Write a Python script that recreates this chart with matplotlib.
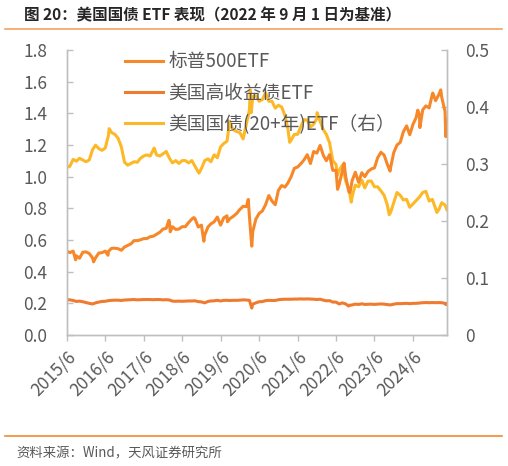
import matplotlib
matplotlib.use('Agg')
import matplotlib.pyplot as plt
import matplotlib.ticker as mticker
import matplotlib.transforms as mtrans
from matplotlib.lines import Line2D
import pandas as pd

plt.rcParams['font.family'] = ['Noto Sans CJK SC', 'DejaVu Sans']

# monthly points, first of month, 2015/6 .. 2025/4
months = pd.date_range('2015-06-01', '2025-04-01', freq='MS')

# 标普500ETF (left axis)
sp_vals = [
    0.53, 0.52, 0.53, 0.50, 0.485, 0.523, 0.525,
    0.515, 0.487, 0.487, 0.518, 0.52, 0.53, 0.528, 0.548, 0.548, 0.545, 0.535, 0.556,
    0.566, 0.576, 0.596, 0.596, 0.601, 0.609, 0.609, 0.621, 0.624, 0.636, 0.649, 0.669,
    0.674, 0.712, 0.684, 0.667, 0.669, 0.684, 0.684, 0.71, 0.732, 0.735, 0.682, 0.694,
    0.631, 0.682, 0.702, 0.715, 0.745, 0.694, 0.74, 0.753, 0.737, 0.75, 0.768, 0.793,
    0.813, 0.811, 0.747, 0.652, 0.732, 0.768, 0.783, 0.823, 0.881, 0.846, 0.823, 0.914,
    0.944, 0.934, 0.96, 1.0, 1.053, 1.061, 1.081, 1.106, 1.139, 1.083, 1.159, 1.149,
    1.197, 1.134, 1.101, 1.139, 1.04, 1.04, 0.952, 1.038, 1.0, 0.904, 0.975, 1.028,
    0.965, 1.025, 1.0, 1.033, 1.048, 1.056, 1.119, 1.154, 1.136, 1.078, 1.056, 1.152,
    1.2, 1.217, 1.283, 1.321, 1.265, 1.331, 1.374, 1.389, 1.422, 1.447, 1.434, 1.52,
    1.48, 1.518, 1.50, 1.412,
]
sp_extra_dates = ['2015-08-25', '2016-02-11', '2016-06-27', '2018-01-26', '2018-02-08',
                  '2018-09-20', '2018-12-24', '2019-08-05', '2020-02-19', '2020-03-23',
                  '2022-06-16', '2022-08-16', '2022-10-12', '2023-10-27', '2024-07-16',
                  '2024-08-05', '2024-12-06', '2025-02-19', '2025-04-08', '2025-04-18']
sp_extra_vals = [0.475, 0.462, 0.504, 0.724, 0.652,
                 0.742, 0.592, 0.715, 0.856, 0.561,
                 0.92, 1.086, 0.90, 1.035, 1.42,
                 1.31, 1.528, 1.548, 1.253, 1.36]

# 美国高收益债ETF (left axis)
hy_vals = [
    0.223, 0.222, 0.218, 0.212, 0.214, 0.21, 0.205,
    0.2, 0.196, 0.203, 0.208, 0.212, 0.213, 0.217, 0.219, 0.22, 0.22, 0.218, 0.221,
    0.222, 0.223, 0.224, 0.222, 0.223, 0.224, 0.224, 0.224, 0.223, 0.224, 0.224, 0.222,
    0.223, 0.221, 0.214, 0.213, 0.214, 0.213, 0.214, 0.215, 0.215, 0.216, 0.211, 0.209,
    0.203, 0.212, 0.215, 0.216, 0.219, 0.215, 0.219, 0.219, 0.218, 0.219, 0.219, 0.22,
    0.222, 0.221, 0.219, 0.195, 0.203, 0.21, 0.211, 0.217, 0.219, 0.218, 0.218, 0.223,
    0.225, 0.226, 0.226, 0.226, 0.227, 0.227, 0.228, 0.227, 0.228, 0.227, 0.226, 0.224,
    0.226, 0.22, 0.216, 0.217, 0.208, 0.208, 0.196, 0.203, 0.196, 0.187, 0.19, 0.195,
    0.193, 0.197, 0.193, 0.194, 0.195, 0.193, 0.195, 0.196, 0.195, 0.192, 0.19, 0.195,
    0.198, 0.198, 0.199, 0.2, 0.198, 0.2, 0.2, 0.202, 0.204, 0.205, 0.204, 0.205,
    0.204, 0.205, 0.204, 0.2,
]
hy_extra_dates = ['2020-03-23', '2022-09-29', '2025-04-08', '2025-04-18']
hy_extra_vals = [0.17, 0.183, 0.192, 0.198]

# 美国国债(20+年)ETF (right axis)
tlt_vals = [
    0.294, 0.296, 0.308, 0.305, 0.31, 0.307, 0.304,
    0.307, 0.325, 0.333, 0.327, 0.324, 0.328, 0.35, 0.355, 0.352, 0.345, 0.33, 0.303,
    0.298, 0.301, 0.304, 0.303, 0.31, 0.314, 0.316, 0.314, 0.325, 0.316, 0.314, 0.318,
    0.322, 0.31, 0.302, 0.306, 0.301, 0.306, 0.306, 0.302, 0.306, 0.296, 0.286, 0.292,
    0.306, 0.309, 0.304, 0.316, 0.311, 0.33, 0.336, 0.34, 0.368, 0.36, 0.357, 0.355,
    0.344, 0.37, 0.395, 0.418, 0.42, 0.41, 0.413, 0.425, 0.41, 0.41, 0.398, 0.403,
    0.40, 0.385, 0.362, 0.342, 0.352, 0.352, 0.365, 0.378, 0.377, 0.365, 0.37, 0.38,
    0.375, 0.36, 0.352, 0.337, 0.306, 0.299, 0.289, 0.298, 0.27, 0.256, 0.243, 0.263,
    0.26, 0.272, 0.258, 0.27, 0.27, 0.26, 0.26, 0.253, 0.245, 0.228, 0.215, 0.232,
    0.25, 0.245, 0.237, 0.238, 0.224, 0.23, 0.236, 0.242, 0.25, 0.252, 0.235, 0.238,
    0.222, 0.22, 0.232, 0.228,
]
tlt_extra_dates = ['2016-07-08', '2017-09-08', '2018-11-08', '2019-08-27', '2020-03-09',
                   '2020-03-18', '2021-03-18', '2021-12-03', '2022-06-14', '2022-10-24',
                   '2023-10-19', '2025-01-13', '2025-04-18']
tlt_extra_vals = [0.362, 0.328, 0.284, 0.375, 0.43,
                  0.39, 0.338, 0.39, 0.28, 0.233,
                  0.211, 0.215, 0.22]

labels = ['标普500ETF', '美国高收益债ETF', '美国国债(20+年)ETF（右）']
tick_years = list(range(2015, 2025))


def series(vals, extra_dates, extra_vals):
    s = pd.Series(vals, index=months)
    e = pd.Series(extra_vals, index=pd.to_datetime(extra_dates))
    return pd.concat([s, e]).sort_index()


sp = series(sp_vals, sp_extra_dates, sp_extra_vals)
hy = series(hy_vals, hy_extra_dates, hy_extra_vals)
tlt = series(tlt_vals, tlt_extra_dates, tlt_extra_vals)

grey = '#595959'
spine_c = '#BFBFBF'

fig = plt.figure(figsize=(5.08, 4.66), dpi=100)
ax = fig.add_axes([0.1313, 0.2811, 0.7487, 0.6116])
ax2 = ax.twinx()

l1, = ax.plot(sp.index, sp.values, color='#F7882A', lw=2.2, label=labels[0])
l2, = ax.plot(hy.index, hy.values, color='#EE7B30', lw=2.2, label=labels[1])
l3, = ax2.plot(tlt.index, tlt.values, color='#FDB827', lw=2.2, label=labels[2])
ax.set_zorder(ax2.get_zorder() + 1)
ax.patch.set_visible(False)

ax.set_xlim(pd.Timestamp('2015-06-01'), pd.Timestamp('2025-04-20'))
ax.set_ylim(0, 1.8)
ax2.set_ylim(0, 0.5)
ax.set_yticks([i * 0.2 for i in range(10)])
ax2.set_yticks([0, 0.1, 0.2, 0.3, 0.4, 0.5])
ax.yaxis.set_major_formatter(mticker.FormatStrFormatter('%.1f'))
ax2.yaxis.set_major_formatter(mticker.FuncFormatter(lambda v, p: '0' if v == 0 else '%.1f' % v))

ax.set_xticks([pd.Timestamp('%d-06-01' % y) for y in tick_years])
ax.set_xticklabels(['%d/6' % y for y in tick_years], rotation=45, ha='right',
                   rotation_mode='anchor')
shift = mtrans.ScaledTranslation(5 / 100, 0, fig.dpi_scale_trans)
for lab in ax.get_xticklabels():
    lab.set_transform(lab.get_transform() + shift)

for a in (ax, ax2):
    a.spines['top'].set_visible(False)
    for side in ('left', 'right', 'bottom'):
        a.spines[side].set_color(spine_c)
        a.spines[side].set_linewidth(1.0)

ax.tick_params(axis='y', direction='in', length=4, width=1, color=spine_c,
               labelsize=12.5, labelcolor=grey, pad=14)
ax2.tick_params(axis='y', direction='in', length=4, width=1, color=spine_c,
                labelsize=12.5, labelcolor=grey, pad=13)
ax.tick_params(axis='x', direction='out', length=4, width=1, color=spine_c,
               labelsize=12.5, labelcolor=grey, pad=5)

ax2.legend(handles=[l1, l2, l3], loc='upper left', bbox_to_anchor=(0.11, 1.055),
           frameon=False, fontsize=13.5, labelcolor=grey, handlelength=2.0,
           handletextpad=0.3, labelspacing=0.55)

# title, rules and source
fig.text(24 / 508, 1 - 15 / 466, '图 20：美国国债 ETF 表现（2022 年 9 月 1 日为基准）',
         fontsize=11.2, fontweight='bold', color='#262626', va='center')
fig.add_artist(Line2D([5 / 508, 502 / 508], [1 - 29 / 466, 1 - 29 / 466],
                      color='#F6A25E', lw=1.2))
fig.add_artist(Line2D([5 / 508, 502 / 508], [1 - 436 / 466, 1 - 436 / 466],
                      color='#F28A2E', lw=1.2))
fig.text(16 / 508, 1 - 453 / 466, '资料来源：Wind，天风证券研究所',
         fontsize=9.6, color=grey, va='center')

fig.savefig('out.png', dpi=100)
